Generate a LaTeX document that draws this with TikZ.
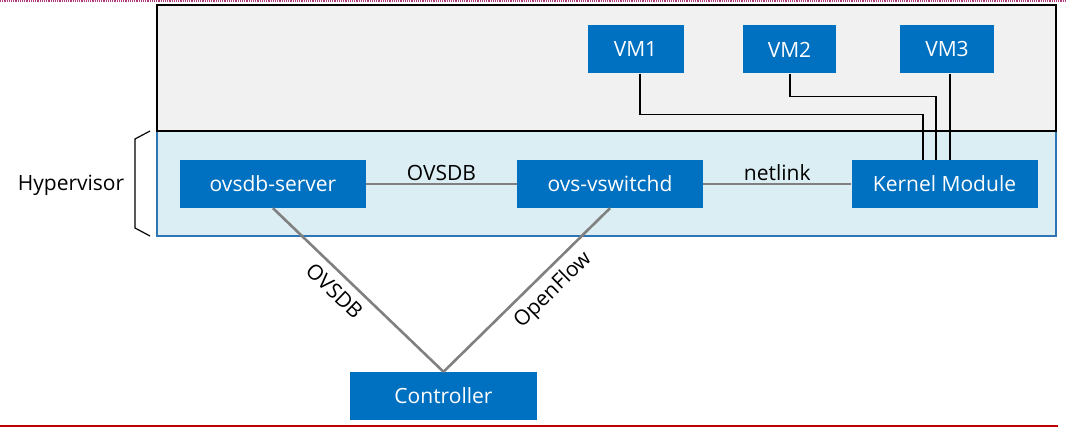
\documentclass[tikz,border=0pt]{standalone}
\usepackage{fontspec}
\setmainfont{Open Sans}
\usepackage{tikz}
\usetikzlibrary{calc}
\definecolor{boxblue}{HTML}{0070C0}
\definecolor{hvfill}{HTML}{DAEEF3}
\definecolor{hvline}{HTML}{2E75B6}
\definecolor{vmfill}{HTML}{F2F1F1}
\definecolor{linkgray}{HTML}{808080}

\begin{document}
\begin{tikzpicture}[x=1pt, y=-1pt,
  blk/.style={fill=boxblue, text=white, minimum height=48pt, inner sep=0pt,
    font=\fontsize{21}{24}\selectfont},
  lbl/.style={font=\fontsize{21}{24}\selectfont, inner sep=2pt},
  link/.style={draw=linkgray, line width=2.6pt},
  vmlink/.style={draw=black, line width=1.3pt}]
\useasboundingbox (0,0) rectangle (1067,427);
\draw[densely dotted, magenta!70!black, line width=1.2pt] (0,1) -- (1067,1);
\draw[red!75!black, line width=1.5pt] (0,426) -- (1058,426);
\filldraw[fill=hvfill, draw=hvline, line width=1.3pt] (157,131) rectangle (1056,236);
\filldraw[fill=vmfill, draw=black, line width=1.5pt] (157,5) rectangle (1056,131);
\draw[line width=1.2pt] (150,131) -- (135,139) -- (135,228) -- (150,236);
\node[lbl] (hyp) at (71,185) {Hypervisor};
\node[blk, minimum width=96pt] (vm1) at (635.5,49.5) {VM1};
\node[blk, minimum width=93pt] (vm2) at (789.5,49.5) {VM2};
\node[blk, minimum width=94pt] (vm3) at (947,49.5) {VM3};
\node[blk, minimum width=186pt] (ovsdb) at (273,184) {ovsdb-server};
\node[blk, minimum width=186pt] (vswitchd) at (610,184) {ovs-vswitchd};
\node[blk, minimum width=186pt] (kernel) at (944.5,184) {Kernel Module};
\node[blk, minimum width=187pt] (ctrl) at (443.5,396) {Controller};
\draw[link] (ovsdb) -- node[lbl, above] {OVSDB} (vswitchd);
\draw[link] (vswitchd) -- node[lbl, above] {netlink} (kernel);
\draw[link] (ovsdb.south) -- node[lbl, sloped, below=6pt, pos=0.43] {OVSDB} (ctrl.north);
\draw[link] (ctrl.north) -- node[lbl, sloped, below=5pt, pos=0.58] {OpenFlow} (vswitchd.south);
\draw[vmlink] ([xshift=4.5]vm1.south) -- ++(0,41) -| ([xshift=-21.5]kernel.north);
\draw[vmlink] ([xshift=0.5]vm2.south) -- ++(0,23) -| ([xshift=-8.5]kernel.north);
\draw[vmlink] ([xshift=3]vm3.south) -- ([xshift=3]vm3.south |- kernel.north);
\end{tikzpicture}
\end{document}
